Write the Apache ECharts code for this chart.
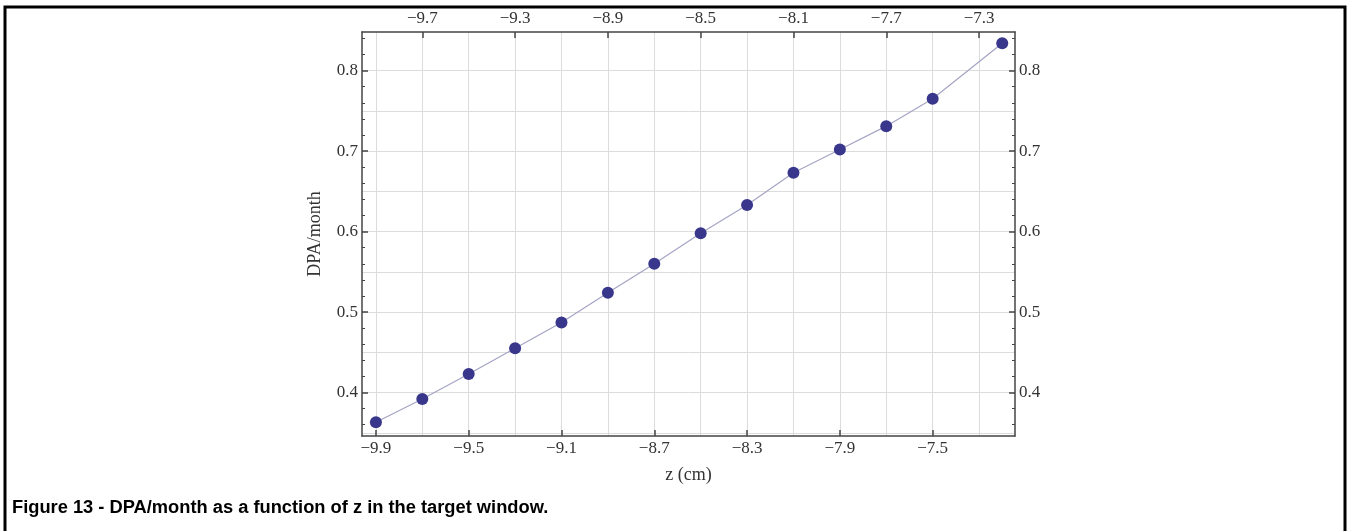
<!DOCTYPE html>
<html>
<head>
<meta charset="utf-8">
<script src="https://cdn.jsdelivr.net/npm/echarts@6/dist/echarts.min.js"></script>
<style>
html,body{margin:0;padding:0;background:#fff;}
#chart{width:1351px;height:531px;}
</style>
</head>
<body>
<div id="chart"></div>
<script>
// Data
const zValues = [-9.9, -9.7, -9.5, -9.3, -9.1, -8.9, -8.7, -8.5, -8.3, -8.1, -7.9, -7.7, -7.5, -7.2];
const dpaValues = [0.363, 0.392, 0.423, 0.455, 0.487, 0.524, 0.560, 0.598, 0.633, 0.673, 0.702, 0.731, 0.765, 0.834];
const bottomTicks = [-9.9, -9.5, -9.1, -8.7, -8.3, -7.9, -7.5];
const topTicks = [-9.7, -9.3, -8.9, -8.5, -8.1, -7.7, -7.3];
const xGridTicks = [-9.9, -9.7, -9.5, -9.3, -9.1, -8.9, -8.7, -8.5, -8.3, -8.1, -7.9, -7.7, -7.5, -7.3];
const yTicks = [0.4, 0.5, 0.6, 0.7, 0.8];
const yGridTicks = [0.35, 0.4, 0.45, 0.5, 0.55, 0.6, 0.65, 0.7, 0.75, 0.8];
const yMinorTicks = [0.36, 0.38, 0.42, 0.44, 0.46, 0.48, 0.52, 0.54, 0.56, 0.58, 0.62, 0.64, 0.66, 0.68, 0.72, 0.74, 0.76, 0.78, 0.82, 0.84];
const xLabel = 'z (cm)';
const yLabel = 'DPA/month';
const caption = 'Figure 13 - DPA/month as a function of z in the target window.';

const X_MIN = -9.96, X_MAX = -7.145, Y_MIN = 0.346, Y_MAX = 0.848;
const serif = 'Liberation Serif';
const lblStyle = {fontFamily: serif, fontSize: 17, color: '#333'};
const axisLineStyle = {color: '#444', width: 1.5};
const fmtX = v => (v < 0 ? '\u2212' : '') + Math.abs(v).toFixed(1);

const chart = echarts.init(document.getElementById('chart'), null, {renderer: 'canvas'});

function xAxisBase(extra) {
  return Object.assign({
    type: 'value', min: X_MIN, max: X_MAX, gridIndex: 0
  }, extra);
}
function yAxisBase(extra) {
  return Object.assign({
    type: 'value', min: Y_MIN, max: Y_MAX, gridIndex: 0
  }, extra);
}

const option = {
  animation: false,
  title: {
    text: caption, left: 7, top: 494,
    textStyle: {fontFamily: 'Liberation Sans', fontWeight: 'bold', fontSize: 18.3, color: '#000'}
  },
  graphic: [{
    type: 'polyline',
    shape: {points: [[5, 531], [5, 7], [1345, 7], [1345, 531]]},
    style: {stroke: '#000', lineWidth: 3, fill: null}
  }],
  grid: {left: 362, top: 32, width: 653, height: 404, containLabel: false},
  xAxis: [
    xAxisBase({
      position: 'bottom',
      name: xLabel, nameLocation: 'middle', nameGap: 30,
      nameTextStyle: {fontFamily: serif, fontSize: 18, color: '#333'},
      axisLine: {show: true, onZero: false, lineStyle: axisLineStyle},
      axisTick: {show: true, inside: true, length: 6, customValues: bottomTicks, lineStyle: {color: '#444', width: 1.5}},
      axisLabel: Object.assign({customValues: bottomTicks, formatter: fmtX, margin: 4}, lblStyle),
      splitLine: {show: false}
    }),
    xAxisBase({
      position: 'top',
      axisLine: {show: true, onZero: false, lineStyle: axisLineStyle},
      axisTick: {show: true, inside: true, length: 6, customValues: topTicks, lineStyle: {color: '#444', width: 1.5}},
      axisLabel: Object.assign({customValues: topTicks, formatter: fmtX, margin: 5}, lblStyle),
      splitLine: {show: false}
    }),
    xAxisBase({
      position: 'bottom',
      axisLine: {show: false, onZero: false},
      axisTick: {show: false, customValues: xGridTicks},
      axisLabel: {show: false, customValues: xGridTicks},
      splitLine: {show: true, lineStyle: {color: '#dcdcdc', width: 1}}
    })
  ],
  yAxis: [
    yAxisBase({
      position: 'left',
      name: yLabel, nameLocation: 'middle', nameGap: 38, nameRotate: 90,
      nameTextStyle: {fontFamily: serif, fontSize: 18, color: '#333'},
      axisLine: {show: true, onZero: false, lineStyle: axisLineStyle},
      axisTick: {show: true, inside: true, length: 6, customValues: yTicks, lineStyle: {color: '#444', width: 1.5}},
      axisLabel: Object.assign({customValues: yTicks, formatter: v => v.toFixed(1), margin: 4}, lblStyle),
      splitLine: {show: false}
    }),
    yAxisBase({
      position: 'right',
      axisLine: {show: true, onZero: false, lineStyle: axisLineStyle},
      axisTick: {show: true, inside: true, length: 6, customValues: yTicks, lineStyle: {color: '#444', width: 1.5}},
      axisLabel: Object.assign({customValues: yTicks, formatter: v => v.toFixed(1), margin: 4}, lblStyle),
      splitLine: {show: false}
    }),
    yAxisBase({
      position: 'left',
      axisLine: {show: false, onZero: false},
      axisTick: {show: true, inside: true, length: 3, customValues: yMinorTicks, lineStyle: {color: '#444', width: 1}},
      axisLabel: {show: false, customValues: yMinorTicks},
      splitLine: {show: false}
    }),
    yAxisBase({
      position: 'right',
      axisLine: {show: false, onZero: false},
      axisTick: {show: true, inside: true, length: 3, customValues: yMinorTicks, lineStyle: {color: '#444', width: 1}},
      axisLabel: {show: false, customValues: yMinorTicks},
      splitLine: {show: false}
    }),
    yAxisBase({
      position: 'left',
      axisLine: {show: false, onZero: false},
      axisTick: {show: false, customValues: yGridTicks},
      axisLabel: {show: false, customValues: yGridTicks},
      splitLine: {show: true, lineStyle: {color: '#dcdcdc', width: 1}}
    })
  ],
  series: [{
    type: 'line',
    xAxisIndex: 0, yAxisIndex: 0,
    data: zValues.map((z, i) => [z, dpaValues[i]]),
    symbol: 'circle', symbolSize: 12,
    itemStyle: {color: '#39378c'},
    lineStyle: {color: '#a4a4c4', width: 1.2},
    z: 5
  }]
};
chart.setOption(option);
</script>
</body>
</html>
